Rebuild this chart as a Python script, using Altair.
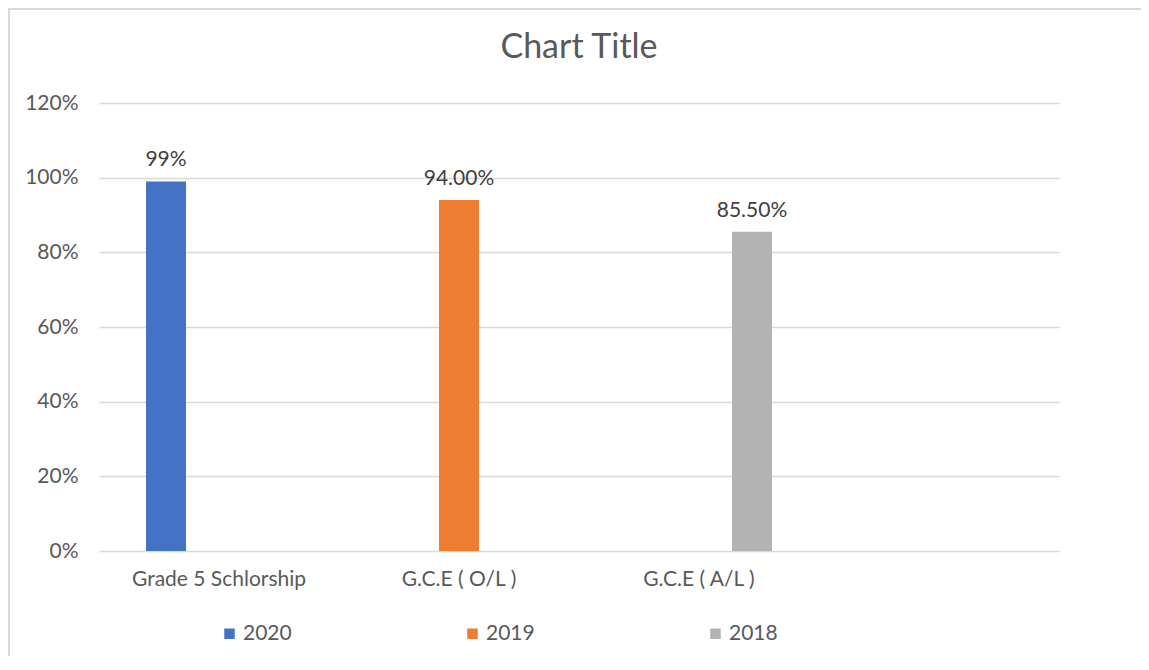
import altair as alt
import pandas as pd

# ---- data ----
categories = ["Grade 5 Schlorship", "G.C.E ( O/L )", "G.C.E ( A/L )"]
axis_slots = categories + [" "]          # the chart reserves a fourth, empty slot
series = ["2020", "2019", "2018"]
values = [0.99, 0.94, 0.855]
value_labels = ["99%", "94.00%", "85.50%"]
colors = ["#4472C4", "#ED7D31", "#B3B3B3"]

df = pd.DataFrame({
    "category": categories,
    "year": series,
    "value": values,
    "label": value_labels,
})

FONT = "Lato"
GREY_TXT = "#595959"
GRID = "#D9D9D9"
FS = 21

x_enc = alt.X(
    "category:N",
    scale=alt.Scale(domain=axis_slots, paddingInner=0.3375, paddingOuter=0.16875),
    sort=axis_slots,
    axis=alt.Axis(
        title=None, domain=False, ticks=False, labelAngle=0,
        labelFont=FONT, labelFontSize=FS, labelColor=GREY_TXT, labelPadding=17,
    ),
)
xoff_enc = alt.XOffset(
    "year:N",
    scale=alt.Scale(domain=series, paddingInner=0.245, paddingOuter=0.1225),
)
y_enc = alt.Y(
    "value:Q",
    scale=alt.Scale(domain=[0, 1.2], nice=False),
    axis=alt.Axis(
        title=None, format=".0%", values=[0, 0.2, 0.4, 0.6, 0.8, 1.0, 1.2],
        domain=False, ticks=False, grid=True, gridColor=GRID, gridWidth=1.5,
        labelFont=FONT, labelFontSize=FS, labelColor=GREY_TXT, labelPadding=21,
    ),
)

bars = alt.Chart(df).mark_bar().encode(
    x=x_enc,
    xOffset=xoff_enc,
    y=y_enc,
    color=alt.Color(
        "year:N",
        scale=alt.Scale(domain=series, range=colors),
        sort=series,
        legend=alt.Legend(
            title=None, orient="none", direction="horizontal",
            legendX=120, legendY=520, symbolType="square", symbolSize=110,
            symbolStrokeWidth=0, columnPadding=170, labelOffset=3,
            labelFont=FONT, labelFontSize=FS, labelColor=GREY_TXT, padding=0,
        ),
    ),
)

labels = alt.Chart(df).mark_text(
    baseline="bottom", dy=-11, font=FONT, fontSize=FS, color="#404040"
).encode(
    x=alt.X("category:N", sort=axis_slots),
    xOffset=alt.XOffset("year:N"),
    y=alt.Y("value:Q"),
    text="label:N",
)

frame_top = alt.Chart(df).mark_rule(color=GRID, strokeWidth=2).encode(
    x=alt.value(-91), x2=alt.value(1060), y=alt.value(-94)
)
frame_left = alt.Chart(df).mark_rule(color=GRID, strokeWidth=2).encode(
    x=alt.value(-90), y=alt.value(-95), y2=alt.value(600)
)

chart = alt.layer(frame_top, frame_left, bars, labels).properties(
    width=960,
    height=448,
    autosize=alt.AutoSizeParams(type="none"),
    padding={"left": 91, "top": 95, "right": 82, "bottom": 105},
    title=alt.TitleParams(
        "Chart Title", font=FONT, fontSize=34, fontWeight="normal",
        color=GREY_TXT, anchor="middle", frame="group", offset=44, dy=102,
    ),
).configure_view(stroke=None)

chart.save("out.html", embed_options={"renderer": "svg", "actions": False})
